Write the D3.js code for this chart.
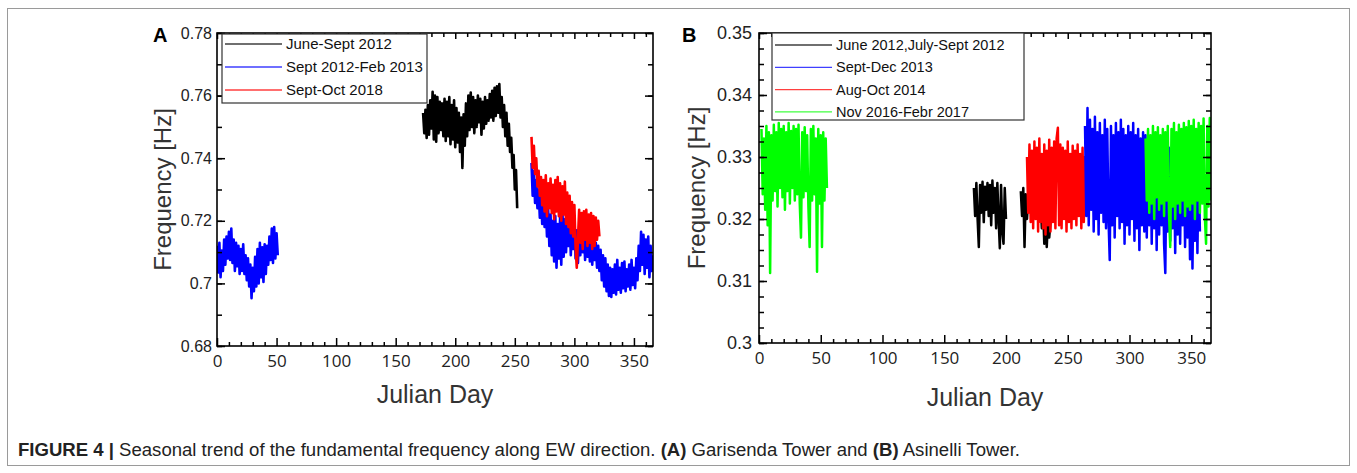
<!DOCTYPE html>
<html>
<head>
<meta charset="utf-8">
<script src="https://cdn.jsdelivr.net/npm/d3@7"></script>
<style>
  body { margin: 0; background: #fff; }
  svg { display: block; }
</style>
</head>
<body>
<div id="chart"></div>
<script>
// ---- data (frequency in Hz, one value per Julian day starting at the given day) ----
var xTicks = [0, 50, 100, 150, 200, 250, 300, 350];
var xTickLabels = ["0", "50", "100", "150", "200", "250", "300", "350"];

// Panel A - Garisenda Tower
var aYTicks = [0.68, 0.70, 0.72, 0.74, 0.76, 0.78];
var aYTickLabels = ["0.68", "0.7", "0.72", "0.74", "0.76", "0.78"];
var aLegend = ["June-Sept 2012", "Sept 2012-Feb 2013", "Sept-Oct 2018"];

var aBlackStart = 173;
var aBlack = [0.7545,0.7480,0.7555,0.7465,0.7570,0.7475,0.7585,0.7495,0.7612,0.7460,
  0.7600,0.7453,0.7595,0.7480,0.7580,0.7490,0.7575,0.7470,0.7590,0.7455,
  0.7580,0.7470,0.7595,0.7445,0.7570,0.7460,0.7585,0.7435,0.7560,0.7450,
  0.7545,0.7420,0.7530,0.7369,0.7540,0.7440,0.7575,0.7470,0.7600,0.7490,
  0.7610,0.7500,0.7595,0.7480,0.7585,0.7500,0.7600,0.7515,0.7590,0.7475,
  0.7580,0.7495,0.7595,0.7510,0.7585,0.7520,0.7605,0.7530,0.7615,0.7520,
  0.7625,0.7535,0.7630,0.7545,0.7637,0.7530,0.7595,0.7500,0.7570,0.7470,
  0.7545,0.7440,0.7510,0.7420,0.7465,0.7370,0.7410,0.7300,0.7362,0.7240];

var aBlue1Start = 0;
var aBlue1 = [0.7120,0.7035,0.7130,0.7020,0.7105,0.7040,0.7140,0.7060,0.7150,0.7080,
  0.7165,0.7075,0.7175,0.7065,0.7140,0.7040,0.7130,0.7055,0.7120,0.7030,
  0.7110,0.7040,0.7125,0.7030,0.7090,0.7010,0.7080,0.6990,0.7060,0.6953,
  0.7050,0.6975,0.7085,0.6990,0.7110,0.7000,0.7130,0.7020,0.7115,0.7005,
  0.7125,0.7030,0.7120,0.7060,0.7150,0.7075,0.7175,0.7065,0.7180,0.7080,
  0.7160,0.7090];

var aBlue2Start = 264;
var aBlue2 = [0.7385,0.7280,0.7360,0.7257,0.7330,0.7240,0.7300,0.7210,0.7280,0.7190,
  0.7270,0.7180,0.7250,0.7150,0.7235,0.7120,0.7220,0.7090,0.7200,0.7070,
  0.7215,0.7050,0.7190,0.7080,0.7210,0.7060,0.7230,0.7085,0.7205,0.7100,
  0.7215,0.7120,0.7200,0.7090,0.7185,0.7110,0.7190,0.7080,0.7170,0.7065,
  0.7160,0.7090,0.7175,0.7100,0.7165,0.7075,0.7150,0.7085,0.7160,0.7070,
  0.7140,0.7060,0.7150,0.7075,0.7130,0.7050,0.7120,0.7040,0.7107,0.7010,
  0.7090,0.6990,0.7080,0.6975,0.7060,0.6960,0.7050,0.6957,0.7045,0.6970,
  0.7060,0.6965,0.7075,0.6980,0.7050,0.6970,0.7065,0.6985,0.7070,0.6975,
  0.7045,0.6990,0.7060,0.6980,0.7075,0.6995,0.7050,0.6985,0.7080,0.7010,
  0.7120,0.7040,0.7165,0.7060,0.7155,0.7030,0.7140,0.7050,0.7150,0.7020,
  0.7120,0.7040,0.7090];

var aRedStart = 264;
var aRed = [0.7468,0.7370,0.7440,0.7350,0.7400,0.7310,0.7360,0.7280,0.7340,0.7250,
  0.7330,0.7230,0.7345,0.7215,0.7320,0.7240,0.7335,0.7225,0.7315,0.7205,
  0.7330,0.7230,0.7340,0.7215,0.7320,0.7200,0.7310,0.7220,0.7325,0.7190,
  0.7290,0.7180,0.7280,0.7160,0.7260,0.7150,0.7250,0.7120,0.7050,0.7140,
  0.7235,0.7130,0.7225,0.7110,0.7230,0.7140,0.7235,0.7120,0.7220,0.7130,
  0.7225,0.7110,0.7215,0.7120,0.7210,0.7140,0.7200,0.7150];

// Panel B - Asinelli Tower
var bYTicks = [0.30, 0.31, 0.32, 0.33, 0.34, 0.35];
var bYTickLabels = ["0.3", "0.31", "0.32", "0.33", "0.34", "0.35"];
var bLegend = ["June 2012,July-Sept 2012", "Sept-Dec 2013", "Aug-Oct 2014", "Nov 2016-Febr 2017"];

var bGreen1Start = 2;
var bGreen1 = [0.3345,0.3240,0.3330,0.3215,0.3350,0.3190,0.3340,0.3113,0.3335,0.3230,
  0.3352,0.3245,0.3340,0.3220,0.3355,0.3250,0.3345,0.3235,0.3350,0.3215,
  0.3340,0.3245,0.3355,0.3225,0.3342,0.3250,0.3350,0.3230,0.3345,0.3240,
  0.3352,0.3225,0.3170,0.3340,0.3235,0.3348,0.3245,0.3335,0.3220,0.3155,
  0.3345,0.3230,0.3350,0.3240,0.3330,0.3115,0.3345,0.3225,0.3335,0.3155,
  0.3340,0.3230,0.3330,0.3250];

var bBlack1Start = 174;
var bBlack1 = [0.3250,0.3205,0.3258,0.3200,0.3155,0.3255,0.3210,0.3260,0.3195,0.3252,
  0.3215,0.3258,0.3205,0.3255,0.3190,0.3262,0.3210,0.3250,0.3185,0.3258,
  0.3200,0.3153,0.3255,0.3180,0.3160,0.3250,0.3200];
var bBlack2Start = 212;
var bBlack2 = [0.3245,0.3205,0.3250,0.3155,0.3240,0.3200,0.3235];
var bBlack3Start = 228;
var bBlack3 = [0.3230,0.3185,0.3220,0.3160,0.3210,0.3155,0.3200,0.3170,0.3195];

var bRedStart = 217;
var bRed = [0.3300,0.3210,0.3320,0.3195,0.3310,0.3185,0.3325,0.3200,0.3315,0.3180,
  0.3330,0.3195,0.3305,0.3185,0.3320,0.3175,0.3310,0.3190,0.3328,0.3180,
  0.3315,0.3195,0.3325,0.3185,0.3330,0.3347,0.3190,0.3320,0.3185,0.3315,
  0.3200,0.3310,0.3180,0.3325,0.3195,0.3305,0.3185,0.3318,0.3200,0.3310,
  0.3190,0.3320,0.3205,0.3305,0.3185,0.3315,0.3195,0.3300,0.3205];

var bBlueStart = 264;
var bBlue = [0.3350,0.3205,0.3379,0.3190,0.3360,0.3215,0.3345,0.3180,0.3365,0.3200,
  0.3340,0.3175,0.3355,0.3210,0.3335,0.3195,0.3360,0.3185,0.3345,0.3200,
  0.3134,0.3350,0.3190,0.3335,0.3170,0.3355,0.3205,0.3340,0.3185,0.3360,
  0.3195,0.3345,0.3160,0.3335,0.3190,0.3350,0.3175,0.3340,0.3200,0.3355,
  0.3165,0.3335,0.3185,0.3345,0.3150,0.3330,0.3190,0.3340,0.3180,0.3335,
  0.3170,0.3325,0.3190,0.3315,0.3160,0.3320,0.3185,0.3310,0.3150,0.3320,
  0.3175,0.3315,0.3190,0.3310,0.3160,0.3113,0.3305,0.3180,0.3315,0.3165,
  0.3300,0.3185,0.3310,0.3145,0.3305,0.3175,0.3315,0.3160,0.3300,0.3190,
  0.3310,0.3155,0.3305,0.3170,0.3300,0.3135,0.3310,0.3120,0.3300,0.3165,
  0.3305,0.3145,0.3295,0.3180];

var bGreen2Start = 313;
var bGreen2 = [0.3330,0.3230,0.3345,0.3210,0.3335,0.3225,0.3350,0.3200,0.3340,0.3235,
  0.3348,0.3215,0.3335,0.3225,0.3345,0.3205,0.3340,0.3230,0.3350,0.3210,
  0.3155,0.3345,0.3220,0.3355,0.3200,0.3340,0.3225,0.3352,0.3210,0.3345,
  0.3230,0.3355,0.3205,0.3348,0.3220,0.3358,0.3215,0.3350,0.3225,0.3360,
  0.3200,0.3345,0.3230,0.3355,0.3210,0.3350,0.3225,0.3362,0.3205,0.3160,
  0.3350,0.3220,0.3363,0.3230];

// ---- drawing ----
var W = 1357, H = 473;
var svg = d3.select("#chart").append("svg").attr("width", W).attr("height", H);

svg.append("rect")
  .attr("x", 7.5).attr("y", 8.5).attr("width", 1342).attr("height", 457)
  .attr("fill", "none").attr("stroke", "#9a9a9a").attr("stroke-width", 1);

function drawPanel(p) {
  var x = d3.scaleLinear().domain([0, 366]).range([p.left, p.right]);
  var y = d3.scaleLinear().domain(p.yDomain).range([p.bottom, p.top]);
  var line = d3.line().x(function(d){ return x(d[0]); }).y(function(d){ return y(d[1]); });

  var clipId = "clip" + p.name;
  svg.append("clipPath").attr("id", clipId).append("rect")
    .attr("x", p.left).attr("y", p.top)
    .attr("width", p.right - p.left).attr("height", p.bottom - p.top);

  var plot = svg.append("g").attr("clip-path", "url(#" + clipId + ")");
  p.series.forEach(function(s){
    var pts = s.values.map(function(v, i){ return [s.start + i, v]; });
    plot.append("path").datum(pts)
      .attr("d", line)
      .attr("fill", "none")
      .attr("stroke", s.color)
      .attr("stroke-width", p.lineWidth)
      .attr("stroke-linejoin", "round");
  });

  // frame
  svg.append("rect")
    .attr("x", p.left).attr("y", p.top)
    .attr("width", p.right - p.left).attr("height", p.bottom - p.top)
    .attr("fill", "none").attr("stroke", "#000").attr("stroke-width", 1.6);

  var xMinor = d3.range(10, 366, 10).filter(function(d){ return d % 50 !== 0; });
  var yMinor = d3.range(p.yDomain[0], p.yDomain[1] + 1e-9, p.yMinorStep);

  function clean(g) { g.select(".domain").remove(); g.selectAll("line").attr("stroke", "#000").attr("stroke-width", 1.5); }

  // bottom
  svg.append("g").attr("transform", "translate(0," + p.bottom + ")")
    .call(d3.axisBottom(x).tickValues(xMinor).tickSize(-4).tickFormat(""))
    .call(clean);
  var bx = svg.append("g").attr("transform", "translate(0," + p.bottom + ")")
    .call(d3.axisBottom(x).tickValues(xTicks).tickSize(-8).tickPadding(9)
      .tickFormat(function(d, i){ return xTickLabels[i]; }))
    .call(clean);
  bx.selectAll("text").attr("font-family", "'Open Sans', sans-serif")
    .attr("font-size", p.xFont).attr("fill", "#222");

  // top
  svg.append("g").attr("transform", "translate(0," + p.top + ")")
    .call(d3.axisTop(x).tickValues(xMinor).tickSize(-4).tickFormat(""))
    .call(clean);
  svg.append("g").attr("transform", "translate(0," + p.top + ")")
    .call(d3.axisTop(x).tickValues(xTicks).tickSize(-6).tickFormat(""))
    .call(clean);

  // left
  svg.append("g").attr("transform", "translate(" + p.left + ",0)")
    .call(d3.axisLeft(y).tickValues(yMinor).tickSize(-5).tickFormat(""))
    .call(clean);
  var ly = svg.append("g").attr("transform", "translate(" + p.left + ",0)")
    .call(d3.axisLeft(y).tickValues(p.yTicks).tickSize(-8).tickPadding(p.yPad)
      .tickFormat(function(d, i){ return p.yTickLabels[i]; }))
    .call(clean);
  ly.selectAll("text").attr("font-family", "'Liberation Sans', Arial, sans-serif")
    .attr("font-size", p.yFont).attr("fill", "#222");

  // right
  svg.append("g").attr("transform", "translate(" + p.right + ",0)")
    .call(d3.axisRight(y).tickValues(yMinor).tickSize(-5).tickFormat(""))
    .call(clean);
  svg.append("g").attr("transform", "translate(" + p.right + ",0)")
    .call(d3.axisRight(y).tickValues(p.yTicks).tickSize(-8).tickFormat(""))
    .call(clean);

  // axis titles
  svg.append("text")
    .attr("x", (p.left + p.right) / 2).attr("y", p.xTitleY)
    .attr("text-anchor", "middle")
    .attr("font-family", "'Liberation Sans', Arial, sans-serif")
    .attr("font-size", 25).attr("fill", "#333")
    .text("Julian Day");
  svg.append("text")
    .attr("transform", "translate(" + p.yTitleX + "," + ((p.top + p.bottom) / 2) + ") rotate(-90)")
    .attr("text-anchor", "middle")
    .attr("font-family", "'Liberation Sans', Arial, sans-serif")
    .attr("font-size", 24).attr("fill", "#333")
    .text("Frequency [Hz]");

  // panel letter
  svg.append("text")
    .attr("x", p.letterX).attr("y", 42)
    .attr("font-family", "'Liberation Sans', Arial, sans-serif")
    .attr("font-weight", "bold").attr("font-size", 20)
    .text(p.name);

  // legend
  var lg = p.legend;
  svg.append("rect")
    .attr("x", lg.x).attr("y", lg.y).attr("width", lg.w).attr("height", lg.h)
    .attr("fill", "#fff").attr("stroke", "#333").attr("stroke-width", 1.2);
  lg.labels.forEach(function(t, i){
    var ry = lg.y + lg.first + i * lg.gap;
    svg.append("line")
      .attr("x1", lg.x + 3).attr("x2", lg.x + 60)
      .attr("y1", ry).attr("y2", ry)
      .attr("stroke", lg.colors[i]).attr("stroke-width", 1.3).attr("opacity", 0.75);
    svg.append("text")
      .attr("x", lg.x + 64).attr("y", ry + 5)
      .attr("font-family", "'Liberation Sans', Arial, sans-serif")
      .attr("font-size", lg.font).attr("fill", "#111")
      .text(t);
  });
}

drawPanel({
  name: "A", left: 217, right: 653, top: 33, bottom: 346,
  yDomain: [0.68, 0.78], yMinorStep: 0.01,
  yTicks: aYTicks, yTickLabels: aYTickLabels, lineWidth: 2.6,
  yFont: 16, yPad: 5, xFont: 17, xTitleY: 403, yTitleX: 171, letterX: 153,
  series: [
    { start: aBlackStart, values: aBlack, color: "#000000" },
    { start: aBlue1Start, values: aBlue1, color: "#0000ff" },
    { start: aBlue2Start, values: aBlue2, color: "#0000ff" },
    { start: aRedStart, values: aRed, color: "#ff0000" }
  ],
  legend: { x: 222, y: 34, w: 205, h: 69, first: 10, gap: 23, font: 15,
            labels: aLegend, colors: ["#000000", "#0000ff", "#ff0000"] }
});

drawPanel({
  name: "B", left: 759, right: 1211, top: 33, bottom: 343,
  yDomain: [0.30, 0.35], yMinorStep: 0.0025,
  yTicks: bYTicks, yTickLabels: bYTickLabels, lineWidth: 2.5,
  yFont: 18, yPad: 7, xFont: 17, xTitleY: 406, yTitleX: 705, letterX: 682,
  series: [
    { start: bGreen1Start, values: bGreen1, color: "#00ff00" },
    { start: bBlack1Start, values: bBlack1, color: "#000000" },
    { start: bBlack2Start, values: bBlack2, color: "#000000" },
    { start: bBlack3Start, values: bBlack3, color: "#000000" },
    { start: bRedStart, values: bRed, color: "#ff0000" },
    { start: bBlueStart, values: bBlue, color: "#0000ff" },
    { start: bGreen2Start, values: bGreen2, color: "#00ff00" }
  ],
  legend: { x: 772, y: 33, w: 252, h: 87, first: 12, gap: 22.3, font: 14.5,
            labels: bLegend, colors: ["#000000", "#0000ff", "#ff0000", "#00ff00"] }
});

// caption
var cap = svg.append("text")
  .attr("x", 18).attr("y", 456)
  .attr("font-family", "'Liberation Sans', Arial, sans-serif")
  .attr("font-size", 17.5).attr("fill", "#222")
  .attr("textLength", 1002).attr("lengthAdjust", "spacingAndGlyphs");
cap.append("tspan").attr("font-weight", "bold").text("FIGURE 4 | ");
cap.append("tspan").text("Seasonal trend of the fundamental frequency along EW direction. ");
cap.append("tspan").attr("font-weight", "bold").text("(A)");
cap.append("tspan").text(" Garisenda Tower and ");
cap.append("tspan").attr("font-weight", "bold").text("(B)");
cap.append("tspan").text(" Asinelli Tower.");
</script>
</body>
</html>
